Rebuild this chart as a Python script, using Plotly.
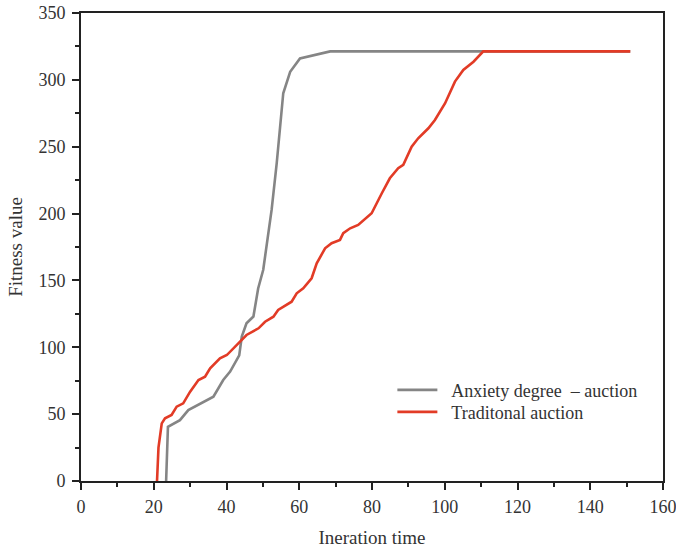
import plotly.graph_objects as go

# Convergence curves: fitness value per iteration
anxiety_x = [23.4, 23.9, 27.2, 29.5, 36.4, 39.1, 41.0, 43.5, 44.2, 45.5, 47.4,
             48.7, 50.1, 52.4, 53.8, 55.6, 57.5, 60.2, 68.5, 110.6, 151.0]
anxiety_y = [0, 40.5, 45.5, 53, 63, 75.5, 81.8, 94, 108, 118, 123,
             144, 158, 202.7, 237.6, 290, 306, 316, 321.3, 321.3, 321.3]

trad_x = [20.9, 21.3, 22.2, 23.1, 24.9, 26.3, 28.1, 30.0, 32.3, 34.1, 35.5, 38.2,
          40.1, 43.7, 45.5, 48.8, 50.6, 52.9, 54.2, 57.9, 59.3, 61.1, 62.5, 63.4,
          64.8, 67.1, 68.9, 71.2, 72.1, 74.0, 76.2, 79.9, 82.7, 84.9, 87.2, 88.6,
          90.9, 92.7, 95.5, 97.3, 100.1, 102.8, 105.1, 107.9, 110.6, 151.0]
trad_y = [0, 25, 43.1, 46.9, 49.4, 55.6, 58.1, 66.8, 75.5, 78, 84.3, 91.8,
          94.2, 104.2, 109.2, 114.2, 119.1, 122.9, 127.9, 134.1, 140.4, 144.1, 149.1, 151.6,
          162.8, 174, 177.8, 180.3, 185.3, 189, 191.5, 200.2, 215.2, 226.4, 233.9, 236.4,
          250, 256.3, 263.8, 270, 282.5, 298.7, 307.4, 313.6, 321.3, 321.3]

series_names = ["Anxiety degree  – auction", "Traditonal auction"]

x_range = [0, 160]
y_range = [0, 350]
x_step, x_minor = 20, 10
y_step, y_minor = 50, 25

serif = "Times New Roman, Liberation Serif, DejaVu Serif, serif"
pad = "\u00a0\u00a0"  # small gap between legend swatch and label

fig = go.Figure()
fig.add_trace(go.Scatter(
    x=anxiety_x, y=anxiety_y, mode="lines",
    name=pad + series_names[0], legend="legend",
    line=dict(color="#858585", width=2.6),
))
fig.add_trace(go.Scatter(
    x=trad_x, y=trad_y, mode="lines",
    name=pad + series_names[1], legend="legend2",
    line=dict(color="#e23b26", width=2.6),
))

axis_common = dict(
    showgrid=False, zeroline=False, automargin=False,
    showline=True, linecolor="#222", linewidth=2, mirror=True,
    ticks="outside", ticklen=7, tickwidth=2, tickcolor="#222",
    tickfont=dict(family=serif, size=18, color="#333"),
    ticklabeloverflow="allow",
    tickmode="linear", tick0=0,
)

fig.update_xaxes(
    range=x_range, dtick=x_step, ticklabelstandoff=1,
    minor=dict(ticks="outside", ticklen=4, tickwidth=2, tickcolor="#222",
               dtick=x_minor, tick0=0, showgrid=False),
    title=dict(text="Ineration time", font=dict(family=serif, size=19, color="#333"), standoff=15),
    **axis_common,
)
fig.update_yaxes(
    range=y_range, dtick=y_step, ticklabelstandoff=3,
    minor=dict(ticks="outside", ticklen=4, tickwidth=2, tickcolor="#222",
               dtick=y_minor, tick0=0, showgrid=False),
    title=dict(text="Fitness value", font=dict(family=serif, size=19, color="#333"), standoff=11),
    **axis_common,
)

legend_style = dict(
    x=0.535, xanchor="left", yanchor="middle",
    bgcolor="rgba(0,0,0,0)",
    font=dict(family=serif, size=18, color="#333"),
    itemwidth=40,
)

fig.update_layout(
    width=676, height=550,
    margin=dict(l=81, r=13, t=13, b=69),
    plot_bgcolor="white", paper_bgcolor="white",
    showlegend=True,
    legend=dict(y=0.194, **legend_style),
    legend2=dict(y=0.147, **legend_style),
)

fig.write_html("out.html")
